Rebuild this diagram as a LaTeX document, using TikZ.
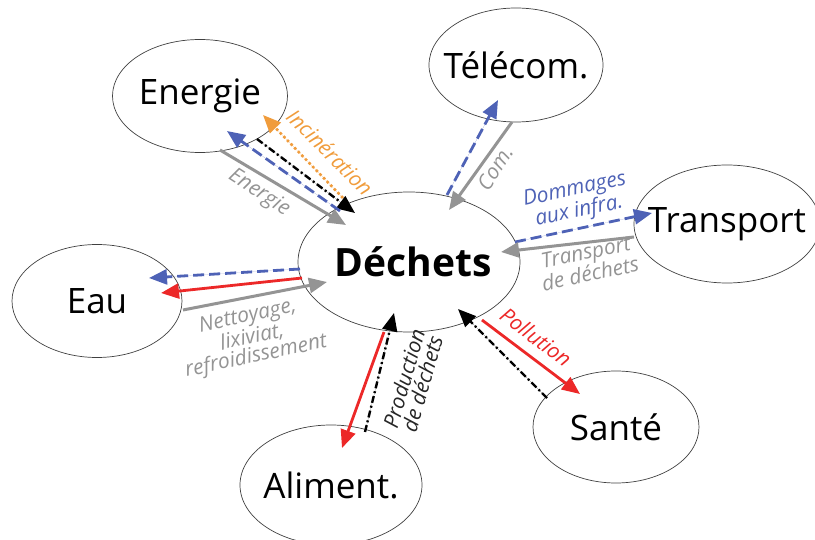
\documentclass[tikz,border=0pt]{standalone}
\usepackage{fontspec}
\setmainfont{Open Sans}
\usetikzlibrary{arrows.meta,shapes.geometric}

\definecolor{arrblue}{RGB}{78,98,182}
\definecolor{arrorange}{RGB}{240,156,60}
\definecolor{arrred}{RGB}{236,40,40}
\definecolor{arrgray}{RGB}{148,148,148}

\newcommand{\ztext}[1]{\makebox[0pt]{#1}}

\begin{document}
\begin{tikzpicture}[x=1pt,y=-1pt,
  ellnode/.style={ellipse, draw=black!75, line width=0.7pt, inner sep=0pt, font=\fontsize{35}{40}\selectfont},
  tip/.style={-{Triangle[length=18pt,width=15pt]}},
  bluearr/.style={tip, draw=arrblue, fill=arrblue, line width=2.8pt, dash pattern=on 11pt off 5pt},
  grayarr/.style={tip, draw=arrgray, fill=arrgray, line width=3pt},
  redarr/.style={tip, draw=arrred, fill=arrred, line width=2.8pt},
  blackarr/.style={tip, draw=black, fill=black, line width=2.4pt, dash pattern=on 7pt off 3pt on 2pt off 3pt},
  orangearr/.style={tip, draw=arrorange, fill=arrorange, line width=2.6pt, dash pattern=on 2.6pt off 2.6pt},
  lbl/.style={font=\fontsize{21}{19}\selectfont\itshape, inner sep=1pt, align=center}
]
\useasboundingbox (0,0) rectangle (815,540);

% ellipses
\node[ellnode, minimum width=175pt, minimum height=113pt] (energie) at (200,96) {\ztext{Energie}};
\node[ellnode, minimum width=174pt, minimum height=114pt] (telecom) at (516,65) {\ztext{Télécom.}};
\node[ellnode, minimum width=186pt, minimum height=118pt] (transport) at (727,224) {\ztext{Transport}};
\node[ellnode, minimum width=170pt, minimum height=113pt] (eau) at (97,301) {\ztext{Eau}};
\node[ellnode, minimum width=222pt, minimum height=140pt, font=\fontsize{39}{44}\selectfont\bfseries] (dechets) at (409,262) {\ztext{\hspace{8pt}Déchets}};
\node[ellnode, minimum width=182pt, minimum height=120pt] (aliment) at (331,485) {\ztext{Aliment.}};
\node[ellnode, minimum width=166pt, minimum height=112pt] (sante) at (616,427) {\ztext{Santé}};

% end points
\coordinate (eO1) at (343,198); \coordinate (eO2) at (263,115);
\coordinate (eK1) at (257,139); \coordinate (eK2) at (355,213);
\coordinate (eB1) at (340,211); \coordinate (eB2) at (227,131);
\coordinate (eG1) at (220,150); \coordinate (eG2) at (346,225);
\coordinate (tB1) at (447,195); \coordinate (tB2) at (498,100);
\coordinate (tG1) at (512,122); \coordinate (tG2) at (449,210);
\coordinate (pB1) at (515,242); \coordinate (pB2) at (652,213);
\coordinate (pG1) at (634,237); \coordinate (pG2) at (501,252);
\coordinate (wB1) at (300,269); \coordinate (wB2) at (149,278);
\coordinate (wR1) at (302,278); \coordinate (wR2) at (161,293);
\coordinate (wG1) at (183,310); \coordinate (wG2) at (327,282);
\coordinate (aR1) at (384,332); \coordinate (aR2) at (342,448);
\coordinate (aK1) at (365,432); \coordinate (aK2) at (394,313);
\coordinate (sR1) at (482,320); \coordinate (sR2) at (580,394);
\coordinate (sK1) at (547,398); \coordinate (sK2) at (458,309);

% flows
\draw[orangearr] (eO1) -- (eO2);
\draw[blackarr] (eK1) -- (eK2);
\draw[bluearr] (eB1) -- (eB2);
\draw[grayarr] (eG1) -- (eG2);
\draw[bluearr] (tB1) -- (tB2);
\draw[grayarr] (tG1) -- (tG2);
\draw[bluearr] (pB1) -- (pB2);
\draw[grayarr] (pG1) -- (pG2);
\draw[bluearr] (wB1) -- (wB2);
\draw[redarr] (wR1) -- (wR2);
\draw[grayarr] (wG1) -- (wG2);
\draw[redarr] (aR1) -- (aR2);
\draw[blackarr] (aK1) -- (aK2);
\draw[redarr] (sR1) -- (sR2);
\draw[blackarr] (sK1) -- (sK2);

% labels
\node[lbl, text=arrorange, rotate=-45] (lInc) at (330,152) {Incinération};
\node[lbl, text=arrgray, rotate=-33] (lEne) at (259,193) {Energie};
\node[lbl, text=arrgray, rotate=57] (lCom) at (495,168) {Com.};
\node[lbl, text=arrblue, rotate=12] (lDom) at (577,201) {Dommages\\aux infra.};
\node[lbl, text=arrgray, rotate=12] (lTra) at (588,263) {Transport\\de déchets};
\node[lbl, text=arrgray, rotate=12] (lNet) at (252,337) {Nettoyage,\\lixiviat,\\refroidissement};
\node[lbl, text=black!85, rotate=74] (lPro) at (413,381) {Production\\de déchets};
\node[lbl, text=arrred, rotate=-37] (lPol) at (536,337) {Pollution};

\end{tikzpicture}
\end{document}
